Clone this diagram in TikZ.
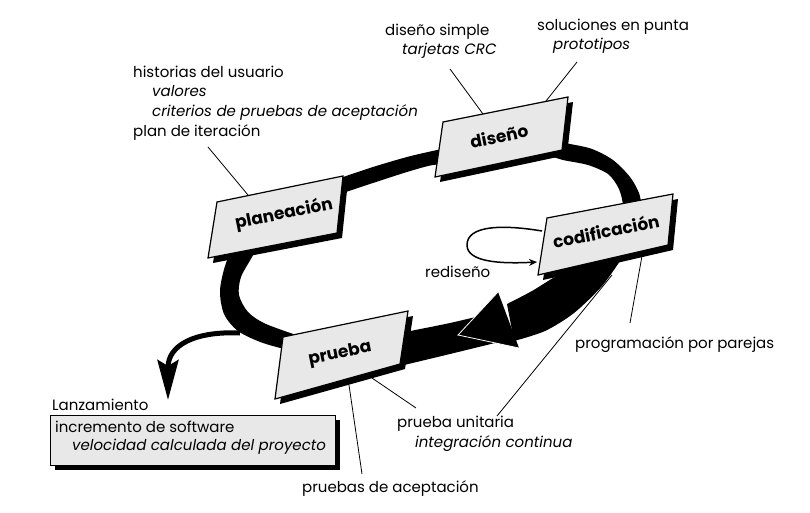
\documentclass[tikz,border=0pt]{standalone}
\usepackage{fontspec}
\setmainfont{Poppins}
\usetikzlibrary{arrows.meta}
\definecolor{boxfill}{RGB}{232,232,232}
\tikzset{
  txt/.style={anchor=base west, inner sep=0pt, font=\fontsize{15}{18}\selectfont},
  itxt/.style={txt, font=\fontsize{15}{18}\selectfont\itshape},
  boxtext/.style={inner sep=0pt, font=\fontsize{17}{20}\selectfont\bfseries, rotate=11.5},
  stagebox/.style={fill=boxfill, draw=black, line width=1.2pt, line join=miter},
  boxshadow/.style={fill=black},
  band/.style={fill=black},
  leader/.style={draw=black, line width=0.8pt},
}
\begin{document}
\begin{tikzpicture}[x=1pt,y=-1pt]
\useasboundingbox (0,0) rectangle (810,513);

% release arrow
\coordinate (relstart) at (240,333);
\coordinate (relend) at (168,400);
\draw[line width=5pt, -{Stealth[length=40pt,width=21pt,inset=6pt]}] (relstart) .. controls (195,331) and (168,345) .. (relend);

% ring pieces
\fill[band] plot[smooth] coordinates {(236,238) (225,266) (220,291) (224,314) (238,331) (263,343) (296,352)}
  -- plot[smooth] coordinates {(305,338) (266,324) (248,312) (239,295) (241,277) (252,257) (262,238)} -- cycle;
\fill[band] plot[smooth] coordinates {(330,181) (343,177) (373,167) (407,157) (437,150) (452,147)}
  -- plot[smooth] coordinates {(452,165) (433,165) (407,172) (373,183) (343,193) (330,198)} -- cycle;
\fill[band] plot[smooth] coordinates {(545,140) (570,144) (592,149) (613,160) (630,177) (639,193) (642,208)}
  -- plot[smooth] coordinates {(624,212) (622,199) (618,187) (608,174) (588,165) (563,160) (548,155)} -- cycle;
\fill[band] plot[smooth] coordinates {(400,333) (450,323) (492,313)}
  -- plot[smooth] coordinates {(495,343) (450,354) (400,366)} -- cycle;
\fill[band] plot[smooth] coordinates {(598,256) (560,274) (532,291) (507,304)}
  -- plot[smooth] coordinates {(514,341) (545,331) (574,313) (602,286) (622,258)} -- cycle;
% arrowhead
\coordinate (tip) at (458,335);
\coordinate (ub) at (498,292);
\coordinate (lb) at (519,348);
\fill[black] (tip) -- (ub) -- (lb) -- cycle;
\draw[white, line width=0.8pt] (ub) -- (tip) -- (lb);

% boxes
\coordinate (pl1) at (217,202); \coordinate (pl2) at (343,176); \coordinate (pl3) at (337,233); \coordinate (pl4) at (208,258);
\coordinate (di1) at (443,122); \coordinate (di2) at (568,97); \coordinate (di3) at (562,150); \coordinate (di4) at (435,177);
\coordinate (co1) at (547,218); \coordinate (co2) at (673,194); \coordinate (co3) at (668,245); \coordinate (co4) at (538,275);
\coordinate (pr1) at (283,337); \coordinate (pr2) at (408,311); \coordinate (pr3) at (400,364); \coordinate (pr4) at (275,399);
\foreach \b in {pl,di,co,pr}{
  \fill[boxshadow] ([shift={(5,5)}]\b1) -- ([shift={(5,5)}]\b2) -- ([shift={(5,5)}]\b3) -- ([shift={(5,5)}]\b4) -- cycle;
  \draw[stagebox] (\b1) -- (\b2) -- (\b3) -- (\b4) -- cycle;
}
\node[boxtext] (plan) at (284,214) {planeación};
\node[boxtext] (dis) at (499,136) {diseño};
\node[boxtext] (cod) at (606,231) {codificación};
\node[boxtext] (pru) at (340,354) {prueba};

% release box
\coordinate (rb1) at (50,415); \coordinate (rb2) at (335,465);
\fill[boxshadow] ([shift={(5,5)}]rb1) rectangle ([shift={(5,5)}]rb2);
\draw[stagebox, line width=1pt] (rb1) rectangle (rb2);

% self loop
\coordinate (loopA) at (542,231);
\coordinate (loopB) at (537,262);
\draw[line width=1.5pt, -{Stealth[length=8pt,width=7pt]}] (loopA) .. controls (500,224) and (467,226) .. (467,245) .. controls (467,262) and (500,264) .. (loopB);

% texts
\node[txt] (h1) at (133,78) {historias del usuario};
\node[itxt] (h2) at (152,97) {valores};
\node[itxt] (h3) at (152,117) {criterios de pruebas de aceptación};
\node[txt] (h4) at (133,137) {plan de iteración};
\node[txt] (d1) at (385,36) {diseño simple};
\node[itxt] (d2) at (402,55) {tarjetas CRC};
\node[txt] (s1) at (537,31) {soluciones en punta};
\node[itxt] (s2) at (553,50) {prototipos};
\node[txt] (red) at (425,277) {rediseño};
\node[txt] (prog) at (575,348) {programación por parejas};
\node[txt] (u1) at (397,427) {prueba unitaria};
\node[itxt] (u2) at (415,447) {integración continua};
\node[txt] (acc) at (302,492) {pruebas de aceptación};
\node[txt] (lanz) at (52,410) {Lanzamiento};
\node[txt] (r1) at (55,432) {incremento de software};
\node[itxt] (r2) at (72,450) {velocidad calculada del proyecto};

% leaders
\coordinate (a1) at (208,147); \coordinate (a2) at (248,195);
\coordinate (b1) at (450,69); \coordinate (b2) at (483,114);
\coordinate (c1) at (577,62); \coordinate (c2) at (546,101);
\coordinate (e1) at (642,256); \coordinate (e2) at (630,323);
\coordinate (f1) at (612,275); \coordinate (f2) at (497,416);
\coordinate (g1) at (372,378); \coordinate (g2) at (416,408);
\coordinate (k1) at (349,385); \coordinate (k2) at (362,474);
\draw[leader] (a1) -- (a2);
\draw[leader] (b1) -- (b2);
\draw[leader] (c1) -- (c2);
\draw[leader] (e1) -- (e2);
\draw[leader] (f1) -- (f2);
\draw[leader] (g1) -- (g2);
\draw[leader] (k1) -- (k2);
\end{tikzpicture}
\end{document}
